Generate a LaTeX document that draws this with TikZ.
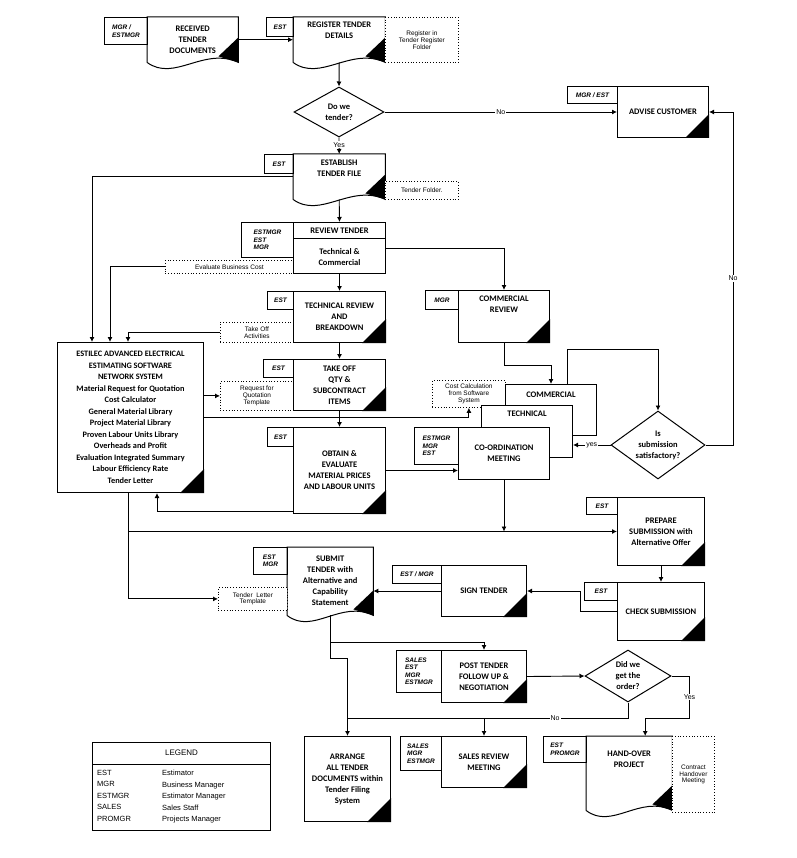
\documentclass[tikz,border=0pt]{standalone}
\usepackage{fontspec}
\setmainfont{Carlito}
\newfontfamily\arial{Liberation Sans}
\usetikzlibrary{shapes.geometric,calc,arrows.meta}

\newcommand\docpath[1]{%
  \fill (#1.south east) -- ++(0,25pt) -- ++(-20pt,-19pt) -- cycle;
  \draw[line width=1pt] (#1.south west) -- (#1.north west) -- (#1.north east) -- (#1.south east)
    .. controls ($(#1.south west)!0.62!(#1.south east)+(0,16pt)$) and ($(#1.south west)!0.3!(#1.south east)+(0,-20pt)$) .. (#1.south west);}
\newcommand\blackcorner[1]{%
  \fill (#1.south east) -- ++(-24pt,0) -- ++(24pt,24pt) -- cycle;}

\begin{document}
\begin{tikzpicture}[x=1pt,y=-1pt,
  every node/.style={inner sep=1pt},
  main/.style={font=\fontsize{8.5}{11}\selectfont\bfseries, align=center},
  box/.style={main, draw, line width=1pt, anchor=north west, fill=white},
  doc/.style={main, anchor=north west},
  tag/.style={draw, line width=1pt, anchor=north west, align=left, inner sep=2pt,
    font=\arial\fontsize{6.5}{7.5}\selectfont\bfseries\itshape},
  note/.style={draw, dotted, line width=0.8pt, anchor=north west, align=center, fill=white,
    font=\arial\fontsize{6.5}{6.8}\selectfont},
  dec/.style={main, draw, line width=1pt, diamond, inner sep=0pt, fill=white},
  arr/.style={-{Latex[length=5pt,width=5pt]}, line width=0.9pt},
  ln/.style={line width=0.9pt},
  lab/.style={font=\arial\fontsize{7}{7}\selectfont, fill=white, inner sep=1pt}
]
\useasboundingbox (0,0) rectangle (796,858);

% documents
\node[doc, minimum width=91, minimum height=45] (rec) at (147,17) {RECEIVED\\TENDER\\DOCUMENTS};
\node[doc, minimum width=92, minimum height=45] (reg) at (293,17) {REGISTER TENDER\\DETAILS\\[8pt]};
\node[doc, minimum width=92, minimum height=45] (est) at (293,154) {ESTABLISH\\TENDER FILE\\[6pt]};
\node[doc, minimum width=86, minimum height=68] (sb) at (287,547) {SUBMIT\\TENDER with\\Alternative and\\Capability\\Statement};
\node[doc, minimum width=86, minimum height=74] (ho) at (586,736) {HAND-OVER\\PROJECT\\[16pt]};
\docpath{rec}\docpath{reg}\docpath{est}\docpath{sb}\docpath{ho}

% notes
\node[note, minimum width=73, minimum height=45] (rn) at (385,17) {Register in\\Tender Register\\Folder};
\node[note, minimum width=73, minimum height=18] (tf) at (385,181) {Tender Folder.};
\node[note, minimum width=128, minimum height=13] (ebc) at (165,260) {Evaluate Business Cost};
\node[note, minimum width=73, minimum height=20] (toa) at (220,322) {Take Off\\Activities};
\node[note, minimum width=73, minimum height=29] (rq) at (220,381) {Request for\\Quotation\\Template};
\node[note, minimum width=73, minimum height=27] (cc) at (432,380) {Cost Calculation\\from Software\\System};
\node[note, minimum width=69, minimum height=23] (tlt) at (218,587) {Tender~~Letter\\Template};
\node[note, minimum width=42, minimum height=76] (chm) at (672,736) {Contract\\Handover\\Meeting};

% process boxes
\node[box, minimum width=91, minimum height=51] (adv) at (617,86) {ADVISE CUSTOMER};
\node[box, minimum width=92, minimum height=51] (rt) at (293,222) {};
\draw[line width=1pt] ([yshift=-17pt]rt.north west) -- ([yshift=-17pt]rt.north east);
\node[main] (rth) at ([yshift=-8.5pt]rt.north) {REVIEW TENDER};
\node[main] (rtb) at ([yshift=17pt]rt.south) {Technical \&\\Commercial};
\node[box, minimum width=92, minimum height=51] (tr) at (293,291) {TECHNICAL REVIEW\\AND\\BREAKDOWN};
\node[box, minimum width=91, minimum height=52] (cr) at (458,290) {COMMERCIAL\\REVIEW\\[14pt]};
\node[box, minimum width=146, minimum height=150, font=\fontsize{8.3}{11.5}\selectfont\bfseries] (sw) at (57,342)
  {ESTILEC ADVANCED ELECTRICAL\\ESTIMATING SOFTWARE\\NETWORK SYSTEM\\Material Request for Quotation\\Cost Calculator\\General Material Library\\Project Material Library\\Proven Labour Units Library\\Overheads and Profit\\Evaluation Integrated Summary\\Labour Efficiency Rate\\Tender Letter};
\node[box, minimum width=92, minimum height=51] (to) at (293,359) {TAKE OFF\\QTY \&\\SUBCONTRACT\\ITEMS};
\node[box, minimum width=92, minimum height=86] (ob) at (293,427) {OBTAIN \&\\EVALUATE\\MATERIAL PRICES\\AND LABOUR UNITS};
\node[box, minimum width=91, minimum height=51] (cm) at (505,384) {};
\node[main] (cml) at ([yshift=-11pt]cm.north) {COMMERCIAL};
\node[box, minimum width=91, minimum height=52] (tc) at (481,405) {};
\node[main] (tcl) at ([yshift=-9pt]tc.north) {TECHNICAL};
\node[box, minimum width=91, minimum height=52] (co) at (458,427) {CO-ORDINATION\\MEETING};
\node[box, minimum width=87, minimum height=68] (ps) at (617,497) {PREPARE\\SUBMISSION with\\Alternative Offer};
\node[box, minimum width=87, minimum height=58] (ck) at (617,582) {CHECK SUBMISSION};
\node[box, minimum width=85, minimum height=51] (sg) at (441,565) {SIGN TENDER};
\node[box, minimum width=85, minimum height=52] (pt) at (441,650) {POST TENDER\\FOLLOW UP \&\\NEGOTIATION};
\node[box, minimum width=86, minimum height=85] (ar) at (304,736) {ARRANGE\\ALL TENDER\\DOCUMENTS within\\Tender Filing\\System};
\node[box, minimum width=85, minimum height=51] (sr) at (441,736) {SALES REVIEW\\MEETING};
\foreach \n in {adv,tr,cr,sw,to,ob,ps,ck,sg,pt,ar,sr} {\blackcorner{\n}}

% decisions
\node[dec, minimum width=90, minimum height=50, aspect=1.8] (dt) at (339,112) {Do we\\tender?};
\node[dec, minimum width=94, minimum height=68, aspect=1.4] (sat) at (658,445) {Is\\submission\\satisfactory?};
\node[dec, minimum width=86, minimum height=52, aspect=1.65] (gto) at (628,676) {Did we\\get the\\order?};

% role tags
\node[tag, minimum width=43, minimum height=27] (t1) at (104,17) {MGR /\\ESTMGR};
\node[tag, minimum width=27, minimum height=19] (t2) at (266,17) {EST};
\node[tag, minimum width=50, minimum height=17] (t3) at (567,86) {MGR / EST};
\node[tag, minimum width=29, minimum height=19] (t4) at (264,154) {EST};
\node[tag, minimum width=52, minimum height=35] (t5) at (241,222) {ESTMGR\\EST\\MGR};
\node[tag, minimum width=26, minimum height=18] (t6) at (267,291) {EST};
\node[tag, minimum width=33, minimum height=19] (t7) at (425,290) {MGR};
\node[tag, minimum width=30, minimum height=18] (t8) at (263,359) {EST};
\node[tag, minimum width=26, minimum height=19] (t9) at (267,427) {EST};
\node[tag, minimum width=44, minimum height=37] (t10) at (414,427) {ESTMGR\\MGR\\EST};
\node[tag, minimum width=31, minimum height=17] (t11) at (586,497) {EST};
\node[tag, minimum width=33, minimum height=18] (t12) at (584,582) {EST};
\node[tag, minimum width=49, minimum height=18] (t13) at (392,565) {EST / MGR};
\node[tag, minimum width=34, minimum height=27] (t14) at (253,547) {EST\\MGR};
\node[tag, minimum width=45, minimum height=42] (t15) at (396,650) {SALES\\EST\\MGR\\ESTMGR};
\node[tag, minimum width=41, minimum height=34] (t16) at (400,736) {SALES\\MGR\\ESTMGR};
\node[tag, minimum width=43, minimum height=26] (t17) at (543,736) {EST\\PROMGR};

% connectors
\draw[arr] (rec.east) -- (reg.west);
\draw[arr] (reg.south) -- (dt.north);
\draw[arr] (dt.east) -- node[lab]{No} (adv.west);
\draw[arr] (dt.south) -- node[lab, pos=0.45]{Yes} (est.north);
\draw[arr] (est.south) -- (rt.north);
\draw[arr] (est.west) -| ([xshift=35pt]sw.north west);
\draw[arr] (ebc.west) -| ([xshift=53pt]sw.north west);
\draw[arr] (toa.west) -| ([xshift=71pt]sw.north west);
\draw[arr] (rt.south) -- (tr.north);
\draw[arr] (rt.east) -| (cr.north);
\draw[arr] (tr.south) -- (to.north);
\draw[arr] (to.south) -- (ob.north);
\draw[arr] (sw.east |- rq.west) -- (rq.west);
\draw[arr] (sw.east) -| (cc.south);
\draw[arr] ([yshift=3pt]ob.south west) -| ([xshift=100pt]sw.south west);
\draw[arr] (ob.east) -- (co.west |- ob.east);
\draw[arr] (cr.south) -- ++(0,-22pt) -| (cm.north);
\draw[arr] ([xshift=62pt]cm.north west) -- ++(0,35pt) -| (sat.north);
\draw[arr] (sat.west) -- node[lab]{yes} (tc.east |- sat.west);
\draw[arr] (sat.east) -| node[lab, pos=0.75]{No} ([xshift=24pt]adv.east) -- (adv.east);
\draw[arr] (co.south) -- (co.south |- ps.west);
\draw[arr] ([xshift=71pt]sw.south west) |- (ps.west);
\draw[arr] ([xshift=71pt]sw.south west) |- (tlt.west);
\draw[arr] (ps.south) -- (ck.north);
\draw[arr] (ck.west) -- ++(-37pt,0) |- (sg.east);
\draw[arr] (sg.west) -- (sb.east |- sg.west);
\draw[arr] (sb.south) -- ++(0,-27pt) -| (pt.north);
\draw[arr] (sb.south) -- ++(0,-43pt) -| (ar.north);
\draw[arr] (pt.east) -- (gto.west);
\coordinate (nb) at ($(gto.south)+(0,-16pt)$);
\draw[ln] (gto.south) -- (nb) -- node[lab, pos=0.26]{No} (nb -| ar.north);
\draw[arr] (nb -| sr.north) -- (sr.north);
\draw[arr] (gto.east) -- ++(18pt,0) -- node[lab]{Yes} ++(0,-42pt) -| ([xshift=16pt]ho.north);

% legend
\node[draw, line width=1pt, anchor=north west, minimum width=178, minimum height=88] (lg) at (92,742) {};
\draw[line width=1pt] ([yshift=-22pt]lg.north west) -- ([yshift=-22pt]lg.north east);
\node[font=\arial\fontsize{8}{9}\selectfont] (lgt) at ([yshift=-11pt]lg.north) {LEGEND};
\node[anchor=north west, align=left, font=\arial\fontsize{7.5}{11.5}\selectfont] (lga) at (96,769)
  {EST\\MGR\\ESTMGR\\SALES\\PROMGR};
\node[anchor=north west, align=left, font=\arial\fontsize{7.5}{11.5}\selectfont] (lgb) at (161,769)
  {Estimator\\Business Manager\\Estimator Manager\\Sales Staff\\Projects Manager};
\end{tikzpicture}
\end{document}
